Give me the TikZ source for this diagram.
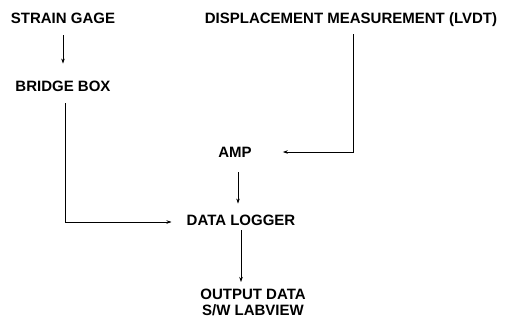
\documentclass[tikz,border=0pt]{standalone}
\usepackage{fontspec}
\setmainfont{Liberation Sans}
\usepackage{tikz}
\usetikzlibrary{arrows.meta, positioning, calc}

\begin{document}
\begin{tikzpicture}[
  x=1pt, y=-1pt,
  lbl/.style={font=\fontsize{15}{17}\selectfont\bfseries, inner sep=0pt, text height=10.5pt, text depth=0pt},
  link/.style={-{Stealth[length=5pt, width=3.5pt]}, line width=0.6pt}
]
\useasboundingbox (0,0) rectangle (508,324);

% Nodes
\node[lbl] (gage)   at (63,18)   {STRAIN GAGE};
\node[lbl] (bridge) at (63,86)   {BRIDGE BOX};
\node[lbl] (lvdt)   at (351,18)  {DISPLACEMENT MEASUREMENT (LVDT)};
\node[lbl] (amp)    at (235,152) {AMP};
\node[lbl] (logger) at (241,220) {DATA LOGGER};
\node[lbl, align=center, anchor=north, text height=, text depth=]
  (output) at (253,289) {OUTPUT DATA\\[-1pt]S/W LABVIEW};

% Links
\draw[link, shorten <=12pt, shorten >=17pt] (gage.south) -- (bridge.north);
\draw[link, shorten <=12pt, shorten >=15pt] ([xshift=2pt]bridge.south) |- ([yshift=-2pt]logger.west);
\draw[link, shorten <=11pt, shorten >=31pt] ([xshift=2pt]lvdt.south) |- (amp.east);
\draw[link, shorten <=15pt, shorten >=11pt] ([xshift=3pt]amp.south) -- ([xshift=3pt]amp.south |- logger.north);
\draw[link, shorten <=5pt, shorten >=7pt] (logger.south) -- (logger.south |- output.north);

\end{tikzpicture}
\end{document}
